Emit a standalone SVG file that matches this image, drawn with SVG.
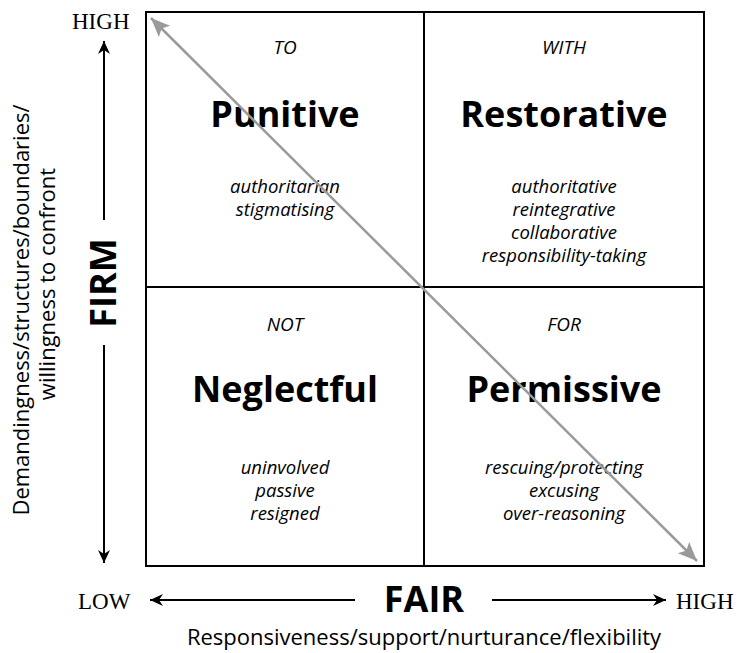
<svg xmlns="http://www.w3.org/2000/svg" width="739" height="653" viewBox="0 0 739 653">
<defs>
<marker id="ah" markerUnits="userSpaceOnUse" viewBox="-14 -7 15 14" refX="0" refY="0" markerWidth="15" markerHeight="14" orient="auto-start-reverse">
<path d="M0,0 L-13,-6 L-9,0 L-13,6 Z" fill="#000"/>
</marker>
<marker id="gh" markerUnits="userSpaceOnUse" viewBox="-20 -9 21 18" refX="0" refY="0" markerWidth="21" markerHeight="18" orient="auto-start-reverse">
<path d="M0,0 L-19,-8 L-15,0 L-19,8 Z" fill="#9a9a9a"/>
</marker>
<style>
.sans{font-family:"Open Sans","Liberation Sans",sans-serif;fill:#000}
.big{font-size:36px;font-weight:bold;text-anchor:middle}
.it{font-style:italic;font-size:18.5px;text-anchor:middle}
.hd{font-style:italic;font-size:19px;text-anchor:middle}
.lab{font-size:22px;text-anchor:middle}
.serif{font-family:"Liberation Serif",serif;font-size:23px;fill:#000}
.ax{stroke:#000;stroke-width:2;fill:none}
</style>
</defs>
<rect width="739" height="653" fill="#fff"/>
<g id="grid" fill="none" stroke="#000" stroke-width="2">
<rect x="146" y="12" width="558" height="554"/>
<line x1="424" y1="12" x2="424" y2="566"/>
<line x1="146" y1="287" x2="704" y2="287"/>
</g>
<g id="punitive" class="sans">
<text class="hd" x="285" y="54">TO</text>
<text class="big" x="285" y="127">Punitive</text>
<text class="it" x="285" y="193">authoritarian</text>
<text class="it" x="285" y="216">stigmatising</text>
</g>
<g id="restorative" class="sans">
<text class="hd" x="564" y="54">WITH</text>
<text class="big" x="564" y="127">Restorative</text>
<text class="it" x="564" y="193">authoritative</text>
<text class="it" x="564" y="216">reintegrative</text>
<text class="it" x="564" y="239">collaborative</text>
<text class="it" x="564" y="262">responsibility-taking</text>
</g>
<g id="neglectful" class="sans">
<text class="hd" x="285" y="331">NOT</text>
<text class="big" x="285" y="402">Neglectful</text>
<text class="it" x="285" y="474">uninvolved</text>
<text class="it" x="285" y="497">passive</text>
<text class="it" x="285" y="520">resigned</text>
</g>
<g id="permissive" class="sans">
<text class="hd" x="564" y="331">FOR</text>
<text class="big" x="564" y="402">Permissive</text>
<text class="it" x="564" y="474">rescuing/protecting</text>
<text class="it" x="564" y="497">excusing</text>
<text class="it" x="564" y="520">over-reasoning</text>
</g>
<g id="firm-axis">
<text class="serif" x="72" y="29">HIGH</text>
<text class="sans big" transform="translate(116,283) rotate(-90)">FIRM</text>
<text class="sans lab" transform="translate(29,310) rotate(-90)">Demandingness/structures/boundaries/</text>
<text class="sans lab" transform="translate(55,284) rotate(-90)">willingness to confront</text>
</g>
<g id="fair-axis">
<text class="serif" x="78" y="609">LOW</text>
<text class="serif" x="676" y="609">HIGH</text>
<text class="sans big" x="424" y="612">FAIR</text>
<text class="sans lab" x="424" y="645">Responsiveness/support/nurturance/flexibility</text>
</g>
<g id="connectors">
<line class="ax" x1="104" y1="220" x2="104" y2="41" marker-end="url(#ah)"/>
<line class="ax" x1="104" y1="345" x2="104" y2="563" marker-end="url(#ah)"/>
<line class="ax" x1="355" y1="600" x2="150" y2="600" marker-end="url(#ah)"/>
<line class="ax" x1="492" y1="600" x2="666" y2="600" marker-end="url(#ah)"/>
<line x1="151" y1="18" x2="697" y2="561" stroke="#9a9a9a" stroke-width="2.5" marker-start="url(#gh)" marker-end="url(#gh)"/>
</g>
</svg>
